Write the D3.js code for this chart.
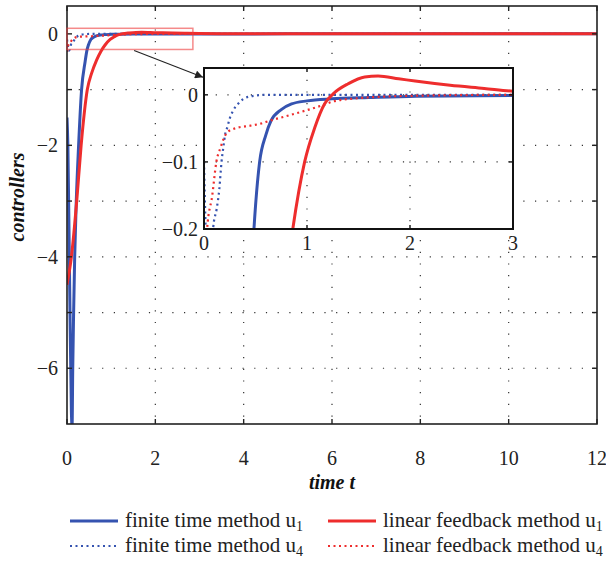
<!DOCTYPE html>
<html><head><meta charset="utf-8">
<script src="https://cdn.jsdelivr.net/npm/d3@7"></script>
<style>body{margin:0;background:#fff}svg{font-family:"Liberation Serif","DejaVu Serif",serif}</style>
</head><body><svg id="c" width="606" height="561"></svg>
<script>
// ---- data ----
const finiteU1T = [0, 0.02, 0.06, 0.1, 0.115, 0.13, 0.15, 0.174, 0.21, 0.26, 0.33, 0.41, 0.45, 0.485, 0.54, 0.6, 0.65, 0.75, 0.85, 1.0, 1.24, 1.6, 2.06, 3, 5, 8, 12];
const finiteU1V = [-1.5, -2.0, -4.5, -6.8, -7.05, -6.0, -5.0, -4.0, -3.0, -2.05, -1.0, -0.5, -0.3, -0.2, -0.1, -0.06, -0.039, -0.022, -0.0136, -0.009, -0.006, -0.004, -0.002, -0.001, 0, 0, 0];
const finiteU4T = [0, 0.016, 0.05, 0.09, 0.123, 0.149, 0.17, 0.188, 0.204, 0.227, 0.25, 0.285, 0.333, 0.38, 0.46, 0.6, 1, 2, 3, 6, 12];
const finiteU4V = [-0.1, -0.2, -0.3, -0.197, -0.17, -0.14, -0.1, -0.078, -0.06, -0.048, -0.035, -0.023, -0.013, -0.0065, -0.002, 0, 0, 0, 0, 0, 0];
const linearU1T = [0, 0.1, 0.22, 0.32, 0.46, 0.56, 0.67, 0.77, 0.862, 0.977, 1.075, 1.17, 1.254, 1.4, 1.56, 1.69, 1.89, 2.05, 2.39, 2.72, 3, 4, 6, 9, 12];
const linearU1V = [-4.5, -4.0, -3.0, -2.0, -1.0, -0.7, -0.47, -0.31, -0.2, -0.1, -0.049, -0.0136, 0.0015, 0.0166, 0.0267, 0.028, 0.024, 0.0205, 0.0142, 0.0096, 0.0055, 0.001, 0, 0, 0];
const linearU4T = [0, 0.015, 0.03, 0.08, 0.12, 0.16, 0.22, 0.3, 0.45, 0.55, 0.65, 0.77, 0.93, 1.06, 1.16, 1.25, 1.5, 1.7, 2, 3, 6, 12];
const linearU4V = [-0.32, -0.26, -0.2, -0.15, -0.1, -0.079, -0.057, -0.05, -0.046, -0.043, -0.038, -0.033, -0.026, -0.02, -0.015, -0.01, -0.005, -0.003, -0.0015, 0, 0, 0];
const mainXTicks = [0, 2, 4, 6, 8, 10, 12];
const mainYTicks = [0, -1, -2, -3, -4, -5, -6];
const mainYLabels = [0, -2, -4, -6];
const insetXTicks = [0, 1, 2, 3];
const insetYTicks = [0, -0.1, -0.2];
const legendLabels = ["finite time method u", "finite time method u", "linear feedback method u", "linear feedback method u"];
const legendSubs = ["1", "4", "1", "4"];

const BLUE = "#3553b0", RED = "#ee2d2d";
const series = [
  {t: finiteU1T, v: finiteU1V, color: BLUE, dash: null},
  {t: finiteU4T, v: finiteU4V, color: BLUE, dash: "2,3.5"},
  {t: linearU4T, v: linearU4V, color: RED, dash: "2,3.5"},
  {t: linearU1T, v: linearU1V, color: RED, dash: null}
];

const svg = d3.select("#c");
const fmt = d => d < 0 ? "\u2212" + Math.abs(d) : String(d);

// ---- main axes ----
const x = d3.scaleLinear().domain([0, 12]).range([67, 597]);
const y = d3.scaleLinear().domain([-7, 0.5]).range([424, 6]);

svg.append("clipPath").attr("id", "mclip").append("rect")
  .attr("x", x(0)).attr("y", y(0.5)).attr("width", x(12) - x(0)).attr("height", y(-7) - y(0.5));

const grid = svg.append("g").attr("stroke", "#333").attr("stroke-width", 1.2).attr("stroke-dasharray", "1.2,10.5");
grid.selectAll(".gx").data(mainXTicks.slice(1, -1)).join("line")
  .attr("x1", d => x(d)).attr("x2", d => x(d)).attr("y1", y(0.5)).attr("y2", y(-7));
grid.selectAll(".gy").data(mainYTicks.slice(1)).join("line")
  .attr("y1", d => y(d)).attr("y2", d => y(d)).attr("x1", x(0)).attr("x2", x(12));

function drawLines(g, xs, ys, clipId, widthSolid, widthDot) {
  const gl = g.append("g").attr("clip-path", `url(#${clipId})`);
  series.forEach(s => {
    const pts = s.t.map((t, i) => [t, s.v[i]]);
    const line = d3.line().x(d => xs(d[0])).y(d => ys(d[1])).curve(d3.curveMonotoneX);
    gl.append("path").attr("d", line(pts)).attr("fill", "none")
      .attr("stroke", s.color).attr("stroke-width", s.dash ? widthDot : widthSolid)
      .attr("stroke-dasharray", s.dash);
  });
}
drawLines(svg, x, y, "mclip", 3, 2.2);

// frame + ticks
svg.append("rect").attr("x", x(0)).attr("y", y(0.5)).attr("width", x(12) - x(0)).attr("height", y(-7) - y(0.5))
  .attr("fill", "none").attr("stroke", "#222").attr("stroke-width", 1.6);
const tk = svg.append("g").attr("stroke", "#222").attr("stroke-width", 1.4);
mainXTicks.forEach(d => {
  tk.append("line").attr("x1", x(d)).attr("x2", x(d)).attr("y1", y(-7)).attr("y2", y(-7) - 5);
  tk.append("line").attr("x1", x(d)).attr("x2", x(d)).attr("y1", y(0.5)).attr("y2", y(0.5) + 5);
});
mainYTicks.forEach(d => {
  tk.append("line").attr("y1", y(d)).attr("y2", y(d)).attr("x1", x(0)).attr("x2", x(0) + 5);
  tk.append("line").attr("y1", y(d)).attr("y2", y(d)).attr("x1", x(12)).attr("x2", x(12) - 5);
});
svg.append("g").selectAll("text").data(mainXTicks).join("text")
  .attr("x", d => x(d)).attr("y", 465).attr("text-anchor", "middle").attr("font-size", 20).attr("fill", "#222").text(fmt);
svg.append("g").selectAll("text").data(mainYLabels).join("text")
  .attr("x", 58).attr("y", d => y(d) + 7).attr("text-anchor", "end").attr("font-size", 20).attr("fill", "#222").text(fmt);
svg.append("text").attr("x", 332).attr("y", 489).attr("text-anchor", "middle").attr("font-size", 20)
  .attr("font-weight", "bold").attr("font-style", "italic").attr("fill", "#111").text("time t");
svg.append("text").attr("transform", "translate(24,197) rotate(-90)").attr("text-anchor", "middle").attr("font-size", 20)
  .attr("font-weight", "bold").attr("font-style", "italic").attr("fill", "#111").text("controllers");

// zoom rectangle and arrow
svg.append("rect").attr("x", x(0)).attr("y", y(0.1)).attr("width", x(2.85) - x(0)).attr("height", y(-0.28) - y(0.1))
  .attr("fill", "none").attr("stroke", "rgba(238,60,60,0.6)").attr("stroke-width", 1.5);
svg.append("defs").append("marker").attr("id", "ah").attr("viewBox", "0 0 10 10").attr("refX", 10).attr("refY", 5)
  .attr("markerWidth", 10).attr("markerHeight", 8).attr("orient", "auto").attr("markerUnits", "userSpaceOnUse")
  .append("path").attr("d", "M0,0 L10,5 L0,10 z").attr("fill", "#222");
svg.append("line").attr("x1", x(1.52)).attr("y1", y(-0.3)).attr("x2", x(3.08)).attr("y2", y(-0.78))
  .attr("stroke", "#222").attr("stroke-width", 1.1).attr("marker-end", "url(#ah)");

// ---- inset ----
const xi = d3.scaleLinear().domain([0, 3]).range([204, 513]);
const yi = d3.scaleLinear().domain([-0.2, 0.04]).range([229, 68]);
svg.append("rect").attr("x", xi(0)).attr("y", yi(0.04)).attr("width", xi(3) - xi(0)).attr("height", yi(-0.2) - yi(0.04)).attr("fill", "#fff");
svg.append("clipPath").attr("id", "iclip").append("rect")
  .attr("x", xi(0)).attr("y", yi(0.04)).attr("width", xi(3) - xi(0)).attr("height", yi(-0.2) - yi(0.04));
const ig = svg.append("g").attr("stroke", "#333").attr("stroke-width", 1.2).attr("stroke-dasharray", "1.2,10.5");
ig.selectAll(".a").data(insetXTicks.slice(1, -1)).join("line")
  .attr("x1", d => xi(d)).attr("x2", d => xi(d)).attr("y1", yi(0.04)).attr("y2", yi(-0.2));
ig.selectAll(".b").data(insetYTicks.slice(0, -1)).join("line")
  .attr("y1", d => yi(d)).attr("y2", d => yi(d)).attr("x1", xi(0)).attr("x2", xi(3));
drawLines(svg, xi, yi, "iclip", 3, 2.2);
svg.append("rect").attr("x", xi(0)).attr("y", yi(0.04)).attr("width", xi(3) - xi(0)).attr("height", yi(-0.2) - yi(0.04))
  .attr("fill", "none").attr("stroke", "#111").attr("stroke-width", 2);
const itk = svg.append("g").attr("stroke", "#111").attr("stroke-width", 1.4);
insetXTicks.forEach(d => {
  itk.append("line").attr("x1", xi(d)).attr("x2", xi(d)).attr("y1", yi(-0.2)).attr("y2", yi(-0.2) - 4);
  itk.append("line").attr("x1", xi(d)).attr("x2", xi(d)).attr("y1", yi(0.04)).attr("y2", yi(0.04) + 4);
});
insetYTicks.forEach(d => {
  itk.append("line").attr("y1", yi(d)).attr("y2", yi(d)).attr("x1", xi(0)).attr("x2", xi(0) + 4);
  itk.append("line").attr("y1", yi(d)).attr("y2", yi(d)).attr("x1", xi(3)).attr("x2", xi(3) - 4);
});
svg.append("g").selectAll("text").data(insetXTicks).join("text")
  .attr("x", d => xi(d)).attr("y", 250).attr("text-anchor", "middle").attr("font-size", 20).attr("fill", "#222").text(fmt);
svg.append("g").selectAll("text").data(insetYTicks).join("text")
  .attr("x", 198).attr("y", d => yi(d) + 7).attr("text-anchor", "end").attr("font-size", 20).attr("fill", "#222").text(fmt);

// ---- legend ----
const legendPos = [[70, 521], [70, 546], [328, 521], [328, 546]];
const legendSeries = [series[0], series[1], series[3], series[2]];
legendPos.forEach((p, i) => {
  const s = legendSeries[i];
  svg.append("line").attr("x1", p[0]).attr("x2", p[0] + 48).attr("y1", p[1]).attr("y2", p[1])
    .attr("stroke", s.color).attr("stroke-width", s.dash ? 2 : 3).attr("stroke-dasharray", s.dash);
  const t = svg.append("text").attr("x", p[0] + 55).attr("y", p[1] + 6).attr("font-size", 21).attr("fill", "#222");
  t.append("tspan").text(legendLabels[i]);
  t.append("tspan").attr("font-size", 14).attr("dy", 4).text(legendSubs[i]);
});
</script></body></html>
